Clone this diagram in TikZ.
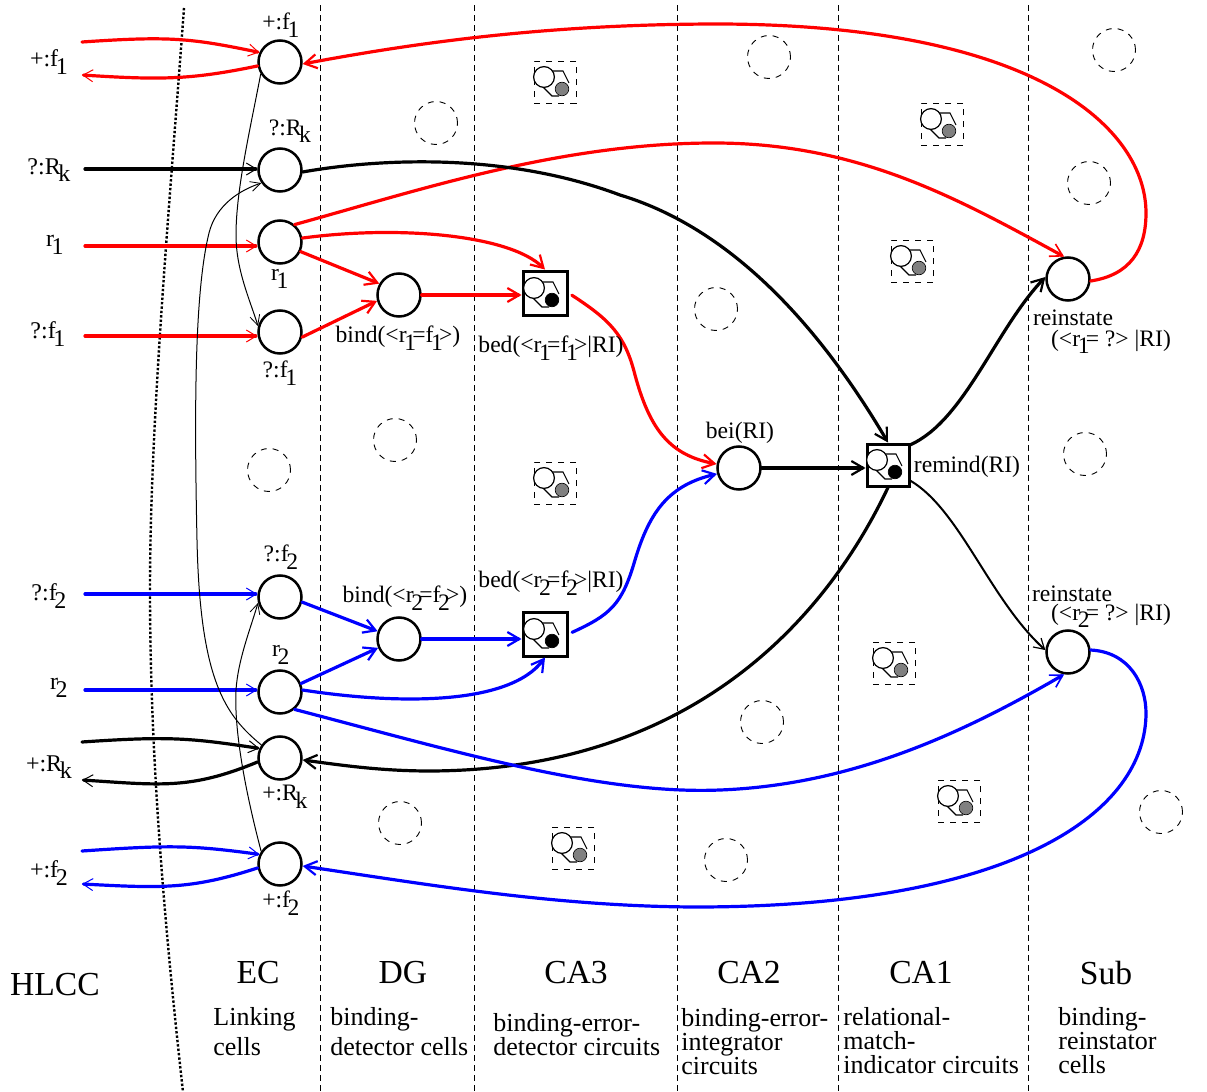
\documentclass[tikz,border=0pt]{standalone}
\usepackage{fontspec}
\setmainfont{Liberation Serif}
\usetikzlibrary{arrows.meta}
\newcommand{\dn}[1]{\kern-0.1em\raisebox{-0.32em}{#1}\kern-0.16em}
\tikzset{
  cellc/.style={circle, draw=black, fill=white, line width=1.25pt, minimum size=21.5pt, inner sep=0pt},
  ghost/.style={circle, draw=black, dashed, line width=0.45pt, minimum size=21.5pt, inner sep=0pt},
  boxc/.style={rectangle, draw=black, fill=white, line width=1.5pt, minimum size=22pt, inner sep=0pt},
  boxg/.style={rectangle, draw=black, dashed, line width=0.5pt, minimum size=21pt, inner sep=0pt},
  layer/.style={draw=black, densely dashed, line width=0.5pt},
  wire/.style={line width=1.6pt, line cap=round},
  fine/.style={wire, -{Straight Barb[length=5pt,width=6pt,line width=0.5pt]}},
  bold/.style={wire, -{Straight Barb[length=6pt,width=7pt,line width=1.1pt]}},
  midb/.style={wire, -{Straight Barb[length=6pt,width=7pt,line width=0.8pt]}},
  link/.style={draw=black, line width=0.5pt, -{Straight Barb[length=5pt,width=5pt,line width=0.4pt]}},
  lab/.style={font=\fontsize{12}{14}\selectfont, inner sep=0pt, yshift=-1pt},
  labs/.style={font=\fontsize{11.8}{12}\selectfont, inner sep=0pt, yshift=-1pt},
  area/.style={font=\fontsize{16.8}{18}\selectfont, inner sep=0pt, yshift=-0.5pt},
  desc/.style={font=\fontsize{13}{12}\selectfont, inner sep=0pt, anchor=west, align=left},
  circuit/.pic={
    \draw[line width=0.55pt] (-3,-11) -- (8,-11) -- (14,1);
    \draw[line width=0.55pt] (-14,3) -- (-3,14) -- (4,14);
    \draw[line width=0.6pt, fill=white] (-11,-5) circle (5.2pt);
    \draw[line width=0.3pt, pic actions] (7,7) circle (3.4pt);
  },
}
\begin{document}
\begin{tikzpicture}[x=0.5pt,y=-0.5pt]
  \useasboundingbox (0,0) rectangle (1207,1092);
  \foreach \x in {320,474,677,838,1028}
    \draw[layer] (\x,5) -- (\x,1092);
  \draw[black, densely dotted, line width=1.2pt] (184,8) .. controls (170,200) and (150,420) .. (150,590) .. controls (150,760) and (165,930) .. (183,1092);

  \foreach \n/\x/\y in {a/436/123,b/769/57,c/1114/50,d/1089/183,e/716/309,f/395/440,g/269/470,h/1085/454,i/762/722,j/400/823,k/726/860,l/1161/812}
    \node[ghost] (ghost\n) at (\x,\y) {};
  \foreach \n/\x/\y in {a/555/82,b/942/124,c/912/261,d/555/483,e/894/663,f/959/801,g/573/848} {
    \node[boxg] (spare\n) at (\x,\y) {};
    \pic[fill=black!50] at (\x,\y) {circuit};
  }

  \node[cellc] (pf1) at (280,62) {};
  \node[cellc] (qRk) at (280,170) {};
  \node[cellc] (r1) at (280,242) {};
  \node[cellc] (qf1) at (280,332) {};
  \node[cellc] (bind1) at (399,295) {};
  \node[boxc] (bed1) at (545,293) {};
  \pic[fill=black] at (545,293) {circuit};
  \node[cellc] (bei) at (739,468) {};
  \node[boxc,minimum size=21pt] (remind) at (888,465) {};
  \pic[fill=black] at (888,465) {circuit};
  \node[cellc] (rein1) at (1068,279) {};
  \node[cellc] (rein2) at (1068,652) {};
  \node[cellc] (qf2) at (280,597) {};
  \node[cellc] (bind2) at (399,639) {};
  \node[boxc] (bed2) at (545,634) {};
  \pic[fill=black] at (545,634) {circuit};
  \node[cellc] (r2) at (280,692) {};
  \node[cellc] (pRk) at (280,758) {};
  \node[cellc] (pf2) at (280,864) {};

  \coordinate (inpf1) at (82,42);
  \coordinate (outpf1) at (82,75);
  \coordinate (inqRk) at (85,169);
  \coordinate (inr1) at (85,246);
  \coordinate (inqf1) at (85,336);
  \coordinate (inqf2) at (85,594);
  \coordinate (inr2) at (85,690);
  \coordinate (inpRk) at (82,742);
  \coordinate (outpRk) at (82,780);
  \coordinate (inpf2) at (82,851);
  \coordinate (outpf2) at (82,884);

  \draw[fine,red] (inpf1) .. controls (170,36) and (190,38) .. (pf1.155);
  \draw[fine,red] (pf1.190) .. controls (190,80) and (160,80) .. (outpf1);
  \draw[bold,red] (rein1.-5) .. controls (1130,275) and (1146,250) .. (1146,213) .. controls (1146,130) and (1040,25) .. (720,24) .. controls (560,24) and (430,40) .. (pf1.-5);
  \draw[midb,red] (r1.50) .. controls (420,190) and (560,143) .. (714,143) .. controls (860,143) and (960,200) .. (rein1.100);
  \draw[bold,red] (r1.10) .. controls (400,225) and (510,235) .. (bed1.north);
  \draw[bold,red] (r1.-25) -- (bind1.150);
  \draw[bold,red] (qf1.-13) -- (bind1.-165);
  \draw[bold,red] (bind1.east) -- (bed1.west |- bind1.east);
  \draw[fine,red] (inr1) -- (r1.west |- inr1);
  \draw[fine,red] (inqf1) -- (qf1.west |- inqf1);
  \draw[bold,red,shorten <=2pt] (bed1.east) .. controls (610,320) and (625,335) .. (635,375) .. controls (650,430) and (670,455) .. (bei.170);

  \draw[fine,black] (inqRk) -- (qRk.west |- inqRk);
  \draw[bold,black] (qRk.-5) .. controls (370,160) and (500,150) .. (620,195) .. controls (720,225) and (810,310) .. (remind.north);
  \draw[bold,black] (bei.east) -- (remind.west |- bei.east);
  \draw[bold,black] (remind.42) .. controls (965,420) and (995,330) .. (rein1.175);
  \draw[bold,black] (remind.south) .. controls (830,610) and (700,770) .. (430,771) .. controls (380,771) and (340,765) .. (pRk.-5);
  \draw[draw=black,line width=1pt,-{Straight Barb[length=5pt,width=6pt,line width=0.6pt]}] (remind.-35) .. controls (960,510) and (990,600) .. (rein2.175);
  \draw[fine,black] (inpRk) .. controls (170,736) and (190,738) .. (pRk.155);
  \draw[fine,black] (pRk.190) .. controls (190,790) and (160,785) .. (outpRk);

  \draw[fine,blue] (inqf2) -- (qf2.west |- inqf2);
  \draw[bold,blue] (qf2.-13) -- (bind2.160);
  \draw[fine,blue] (inr2) -- (r2.west |- inr2);
  \draw[bold,blue] (r2.22) -- (bind2.-157);
  \draw[bold,blue] (bind2.east) -- (bed2.west |- bind2.east);
  \draw[bold,blue,shorten <=2pt] (bed2.east) .. controls (610,615) and (622,605) .. (635,560) .. controls (650,510) and (670,485) .. (bei.-165);
  \draw[bold,blue] (r2.5) .. controls (400,705) and (510,705) .. (bed2.south);
  \draw[midb,blue] (r2.-50) .. controls (450,750) and (600,795) .. (720,790) .. controls (850,785) and (960,735) .. (rein2.-100);
  \draw[bold,blue] (rein2.5) .. controls (1130,652) and (1146,685) .. (1146,713) .. controls (1146,810) and (1020,906) .. (700,907) .. controls (560,907) and (430,885) .. (pf2.-5);
  \draw[fine,blue] (inpf2) .. controls (170,845) and (190,845) .. (pf2.155);
  \draw[fine,blue] (pf2.190) .. controls (190,890) and (160,888) .. (outpf2);

  \draw[link] (pf1.-148) .. controls (250,130) and (236,190) .. (236,235) .. controls (236,270) and (250,300) .. (qf1.165);
  \draw[link] (pRk.145) .. controls (225,715) and (200,680) .. (197,540) .. controls (194,400) and (195,290) .. (209,233) .. controls (216,205) and (240,190) .. (qRk.-145);
  \draw[link] (pf2.146) .. controls (245,790) and (234,730) .. (236,690) .. controls (238,660) and (250,630) .. (qf2.-165);

  \node[lab] (tpf1) at (47,60) {+:f\dn{1}};
  \node[lab] (tqRk) at (47,168) {?:R\dn{k}};
  \node[lab] (tr1) at (53,243) {r\dn{1}};
  \node[lab] (tqf1) at (46,332) {?:f\dn{1}};
  \node[lab] (tqf2) at (47,594) {?:f\dn{2}};
  \node[lab] (tr2) at (57,686) {r\dn{2}};
  \node[lab] (tpRk) at (47,765) {+:R\dn{k}};
  \node[lab] (tpf2) at (47,871) {+:f\dn{2}};
  \node[labs] (lpf1) at (279,23) {+:f\dn{1}};
  \node[labs] (lqRk) at (288,129) {?:R\dn{k}};
  \node[labs] (lr1) at (278,277) {r\dn{1}};
  \node[labs] (lqf1) at (278,371) {?:f\dn{1}};
  \node[labs] (lqf2) at (279,555) {?:f\dn{2}};
  \node[labs] (lr2) at (279,653) {r\dn{2}};
  \node[labs] (lpRk) at (283,795) {+:R\dn{k}};
  \node[labs] (lpf2) at (279,901) {+:f\dn{2}};
  \node[labs] (lbind1) at (398,336) {bind(<r\dn{1}=f\dn{1}>)};
  \node[labs] (lbed1) at (551,346) {bed(<r\dn{1}=f\dn{1}>|RI)};
  \node[labs] (lbind2) at (405,596) {bind(<r\dn{2}=f\dn{2}>)};
  \node[labs] (lbed2) at (551,581) {bed(<r\dn{2}=f\dn{2}>|RI)};
  \node[labs] (lbei) at (740,431) {bei(RI)};
  \node[labs] (lremind) at (967,465) {remind(RI)};
  \node[labs] (lrein1) at (1073,316) {reinstate};
  \node[labs] (lrein1b) at (1111,340) {(<r\dn{1}= ?> |RI)};
  \node[labs] (lrein2) at (1072,592) {reinstate};
  \node[labs] (lrein2b) at (1111,614) {(<r\dn{2}= ?> |RI)};

  \node[area] (hlcc) at (55,984) {HLCC};
  \node[area] (ec) at (258,972) {EC};
  \node[area] (dg) at (403,972) {DG};
  \node[area] (ca3) at (576,972) {CA3};
  \node[area] (ca2) at (749,972) {CA2};
  \node[area] (ca1) at (921,972) {CA1};
  \node[area] (sub) at (1106,972) {Sub};
  \node[desc] (dec) at (213,1032) {Linking\\[3pt]cells};
  \node[desc] (ddg) at (330,1032) {binding-\\[3pt]detector cells};
  \node[desc] (dca3) at (493,1035) {binding-error-\\detector circuits};
  \node[desc] (dca2) at (681,1042) {binding-error-\\integrator\\circuits};
  \node[desc] (dca1) at (843,1041) {relational-\\match-\\indicator circuits};
  \node[desc] (dsub) at (1058,1041) {binding-\\reinstator\\cells};
\end{tikzpicture}
\end{document}
